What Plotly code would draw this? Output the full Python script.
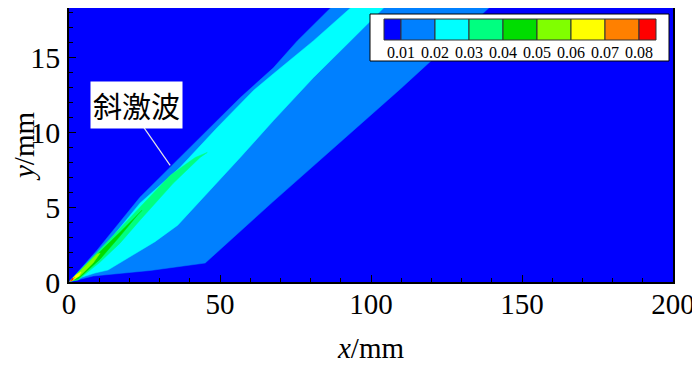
import plotly.graph_objects as go

# ---- contour levels and band colours ----
levels = [0.01, 0.02, 0.03, 0.04, 0.05, 0.06, 0.07, 0.08]
level_labels = ["0.01", "0.02", "0.03", "0.04", "0.05", "0.06", "0.07", "0.08"]
band_colors = ["#0000FF", "#0080FF", "#00FFFF", "#00FF80", "#00DD00",
               "#80FF00", "#FFFF00", "#FF8000", "#FF0000"]

# ---- regions where the value exceeds each level (x, y in mm) ----
above_001_x = [0, 9.3, 23.5, 34.2, 45.8, 56.7, 67.7, 75.6, 86.6, 88.9,
               141.6, 139.0, 109.8, 86.6, 67.3, 45.1, 26.9, 8.0, 2.0, 0]
above_001_y = [0, 2.13, 5.67, 7.8, 10.13, 12.33, 14.33, 16.13, 18.33, 18.8,
               18.8, 18.33, 12.93, 8.8, 5.33, 1.27, 0.77, 0.4, 0.13, 0]

above_002_x = [0.3, 10.3, 23.5, 36.8, 49.1, 61.0, 67.7, 75.6, 80.9, 93.2, 95.5,
               106.5, 104.1, 93.2, 80.9, 67.7, 56.7, 45.8, 36.0, 28.5, 17.5,
               12.9, 8.6, 3.6, 0.3]
above_002_y = [0.07, 2.0, 5.27, 7.67, 10.33, 12.8, 13.93, 15.27, 16.13, 18.33, 18.8,
               18.8, 18.33, 16.13, 13.67, 10.8, 8.33, 5.93, 3.8, 2.7, 1.33,
               0.8, 0.6, 0.27, 0.07]

above_003_x = [0.3, 8.6, 16.3, 23.5, 33.5, 41.8, 45.8,
               43.4, 34.5, 23.5, 16.9, 10.3, 3.0, 0.3]
above_003_y = [0.07, 1.8, 3.47, 5.0, 7.13, 8.33, 8.67,
               8.33, 6.6, 4.13, 2.6, 1.33, 0.13, 0.07]

above_004_x = [0.3, 8.6, 16.9, 24.2, 22.9, 16.9, 10.3, 3.0, 0.3]
above_004_y = [0.07, 1.67, 3.33, 4.8, 4.53, 3.07, 1.53, 0.2, 0.07]

above_005_x = [0.66, 5.3, 9.3, 10.3, 8.0, 3.6, 0.66]
above_005_y = [0.13, 1.07, 1.87, 1.93, 1.27, 0.4, 0.13]

above_006_x = [0.3, 2.3, 4.0, 3.3, 1.0, 0.3]
above_006_y = [0.07, 0.47, 0.67, 0.4, 0.07, 0.07]

above_007_x = [0.2, 1.5, 2.0, 1.0, 0.2]
above_007_y = [0.05, 0.3, 0.33, 0.1, 0.05]

above_008_x = [0.6, 1.3, 1.2, 0.6]
above_008_y = [0.1, 0.27, 0.13, 0.1]

regions = [
    (above_001_x, above_001_y), (above_002_x, above_002_y),
    (above_003_x, above_003_y), (above_004_x, above_004_y),
    (above_005_x, above_005_y), (above_006_x, above_006_y),
    (above_007_x, above_007_y), (above_008_x, above_008_y),
]

# annotation: label position and pointer target (mm)
label_text = "斜激波"
label_pos = (22.5, 11.85)
pointer_from = (23.2, 10.8)
pointer_to = (33.5, 7.8)

x_range = [0, 200]
y_range = [0, 18.33]

fig = go.Figure()
for i, (rx, ry) in enumerate(regions):
    fig.add_trace(go.Scatter(
        x=rx, y=ry, mode="lines", fill="toself",
        fillcolor=band_colors[i + 1],
        line=dict(width=0.5, color=band_colors[i + 1]),
        hoverinfo="skip", showlegend=False))

serif = "Liberation Serif, Times New Roman, serif"

fig.update_layout(
    width=692, height=358,
    margin=dict(l=61, r=27, t=0, b=84),
    paper_bgcolor="white",
    plot_bgcolor=band_colors[0],
    showlegend=False,
    font=dict(family=serif, size=28, color="black"),
)
fig.update_xaxes(
    range=x_range, tickvals=[0, 50, 100, 150, 200], automargin=False,
    ticks="inside", ticklen=7, tickwidth=1.2, tickcolor="black",
    minor=dict(ticks="inside", dtick=10, ticklen=4, tickwidth=1, tickcolor="black"),
    showline=True, linecolor="black", linewidth=1.6, mirror=True,
    showgrid=False, zeroline=False, ticklabelstandoff=-5,
    tickfont=dict(family=serif, size=29),
    title=dict(text="<i>x</i>/mm", font=dict(family=serif, size=29), standoff=19),
)
fig.update_yaxes(
    range=y_range, tickvals=[0, 5, 10, 15], automargin=False,
    ticks="inside", ticklen=7, tickwidth=1.2, tickcolor="black",
    minor=dict(ticks="inside", dtick=1, ticklen=4, tickwidth=1, tickcolor="black"),
    showline=True, linecolor="black", linewidth=1.6, mirror=True,
    showgrid=False, zeroline=False, ticklabelstandoff=1,
    tickfont=dict(family=serif, size=30),
    title=dict(text="<i>y</i>/mm", font=dict(family=serif, size=29), standoff=9),
)

# pointer line and label
fig.add_shape(type="line", xref="x", yref="y",
              x0=pointer_from[0], y0=pointer_from[1],
              x1=pointer_to[0], y1=pointer_to[1],
              line=dict(color="#E6E6E6", width=1.2))
fig.add_annotation(x=label_pos[0], y=label_pos[1], xref="x", yref="y",
                   text=label_text, showarrow=False,
                   font=dict(family="Noto Sans CJK SC", size=29, color="black"),
                   bgcolor="white", borderpad=2)

# ---- level legend (horizontal colour key inside plot) ----
plot_w, plot_h = 604.0, 274.0
def px_x(p):
    return p / plot_w
def px_y(p):
    return p / plot_h

box_x0, box_x1 = px_x(301), px_x(600)
box_y0, box_y1 = 1 - px_y(53), 1 - px_y(6)
fig.add_shape(type="rect", xref="paper", yref="paper",
              x0=box_x0, x1=box_x1, y0=box_y0, y1=box_y1,
              fillcolor="white", line=dict(color="black", width=1))
cell_y0, cell_y1 = 1 - px_y(32), 1 - px_y(11)
first_edge = px_x(332)
step = px_x(34)
edges = [px_x(315)] + [first_edge + k * step for k in range(len(levels))] + [first_edge + (len(levels) - 1) * step + px_x(17)]
for i, col in enumerate(band_colors):
    fig.add_shape(type="rect", xref="paper", yref="paper",
                  x0=edges[i], x1=edges[i + 1], y0=cell_y0, y1=cell_y1,
                  fillcolor=col, line=dict(color="#333333", width=1))
for k, lab in enumerate(level_labels):
    fig.add_annotation(x=edges[k + 1], y=1 - px_y(44), xref="paper", yref="paper",
                       xanchor="center", yanchor="middle",
                       text=lab, showarrow=False,
                       font=dict(family=serif, size=16, color="black"))

fig.write_html("out.html")
